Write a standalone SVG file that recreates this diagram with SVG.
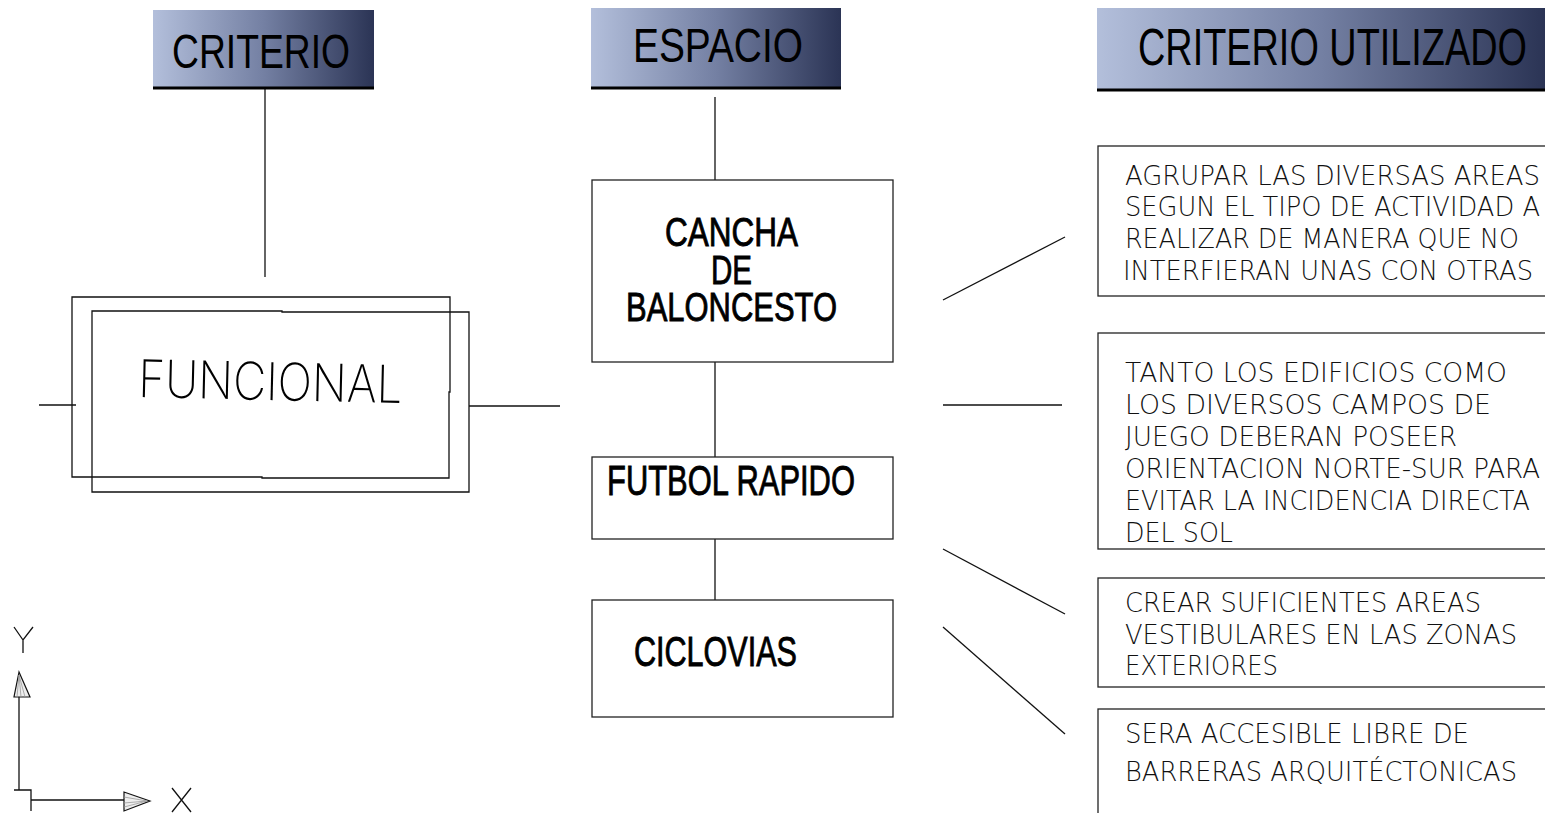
<svg xmlns="http://www.w3.org/2000/svg" width="1545" height="813" viewBox="0 0 1545 813">
<defs>
<linearGradient id="hdr" x1="0" y1="0" x2="1" y2="0">
<stop offset="0" stop-color="#b3bfdb"/>
<stop offset="0.5" stop-color="#7480a3"/>
<stop offset="1" stop-color="#2b3455"/>
</linearGradient>
<style>
.hbox{fill:url(#hdr);}
.hline{stroke:#000;stroke-width:3;}
.box{fill:#fff;stroke:#222;stroke-width:1.3;}
.ln{stroke:#111;stroke-width:1.3;fill:none;}
.ht{font-family:"Liberation Sans",Arial,sans-serif;fill:#000;}
.mt{font-family:"Liberation Sans",Arial,sans-serif;fill:#000;stroke:#000;stroke-width:0.9;}
.rt{font-family:"DejaVu Sans","Inter",sans-serif;font-weight:200;font-size:26px;fill:#111;}
.ft{font-family:"Inter","DejaVu Sans",sans-serif;font-weight:200;font-size:52px;fill:#000;}
</style>
</defs>
<rect width="1545" height="813" fill="#fff"/>

<g id="connectors">
<line class="ln" x1="265" y1="89" x2="265" y2="277"/>
<line class="ln" x1="39" y1="405" x2="76" y2="405"/>
<line class="ln" x1="469" y1="406" x2="560" y2="406"/>
<line class="ln" x1="715" y1="97" x2="715" y2="180"/>
<line class="ln" x1="715" y1="362" x2="715" y2="457"/>
<line class="ln" x1="715" y1="539" x2="715" y2="600"/>
<line class="ln" x1="943" y1="300" x2="1065" y2="237"/>
<line class="ln" x1="943" y1="405" x2="1062" y2="405"/>
<line class="ln" x1="943" y1="549" x2="1065" y2="614"/>
<line class="ln" x1="943" y1="627" x2="1065" y2="734"/>
</g>

<g id="hdr-criterio">
<rect class="hbox" x="153" y="10" width="221" height="78"/>
<line class="hline" x1="153" y1="88" x2="374" y2="88"/>
<text class="ht" x="172" y="68" font-size="48" textLength="178" lengthAdjust="spacingAndGlyphs">CRITERIO</text>
</g>
<g id="hdr-espacio">
<rect class="hbox" x="591" y="8" width="250" height="80"/>
<line class="hline" x1="591" y1="88" x2="841" y2="88"/>
<text class="ht" x="633" y="62" font-size="48" textLength="170" lengthAdjust="spacingAndGlyphs">ESPACIO</text>
</g>
<g id="hdr-utilizado">
<rect class="hbox" x="1097" y="8" width="448" height="82"/>
<line class="hline" x1="1097" y1="90" x2="1545" y2="90"/>
<text class="ht" x="1138" y="65" font-size="52" textLength="389" lengthAdjust="spacingAndGlyphs">CRITERIO UTILIZADO</text>
</g>

<g id="funcional">
<path class="ln" d="M72 297 H450 V392 H449 V478 H262 V477 H72 Z"/>
<path class="ln" d="M92 311 H282 V312 H469 V492 H92 Z"/>
<text class="ft" x="138" y="397" textLength="264" lengthAdjust="spacingAndGlyphs" transform="rotate(1.3 138 397)">FUNCIONAL</text>
</g>

<g id="cancha">
<rect class="box" x="592" y="180" width="301" height="182"/>
<text class="mt" x="665" y="246" font-size="41" textLength="133" lengthAdjust="spacingAndGlyphs">CANCHA</text>
<text class="mt" x="711" y="284" font-size="41" textLength="41" lengthAdjust="spacingAndGlyphs">DE</text>
<text class="mt" x="626" y="321" font-size="41" textLength="211" lengthAdjust="spacingAndGlyphs">BALONCESTO</text>
</g>
<g id="futbol">
<rect class="box" x="592" y="457" width="301" height="82"/>
<text class="mt" x="607" y="495" font-size="43" textLength="248" lengthAdjust="spacingAndGlyphs">FUTBOL RAPIDO</text>
</g>
<g id="ciclovias">
<rect class="box" x="592" y="600" width="301" height="117"/>
<text class="mt" x="634" y="666" font-size="43" textLength="163" lengthAdjust="spacingAndGlyphs">CICLOVIAS</text>
</g>

<g id="crit1">
<rect class="box" x="1098" y="146" width="460" height="150"/>
<text class="rt" x="1125" y="185" textLength="415" lengthAdjust="spacingAndGlyphs">AGRUPAR LAS DIVERSAS AREAS</text>
<text class="rt" x="1125" y="216" textLength="415" lengthAdjust="spacingAndGlyphs">SEGUN EL TIPO DE ACTIVIDAD A</text>
<text class="rt" x="1125" y="248" textLength="394" lengthAdjust="spacingAndGlyphs">REALIZAR DE MANERA QUE NO</text>
<text class="rt" x="1123" y="280" textLength="410" lengthAdjust="spacingAndGlyphs">INTERFIERAN UNAS CON OTRAS</text>
</g>
<g id="crit2">
<rect class="box" x="1098" y="333" width="460" height="216"/>
<text class="rt" x="1125" y="382" textLength="382" lengthAdjust="spacingAndGlyphs">TANTO LOS EDIFICIOS COMO</text>
<text class="rt" x="1125" y="414" textLength="366" lengthAdjust="spacingAndGlyphs">LOS DIVERSOS CAMPOS DE</text>
<text class="rt" x="1125" y="446" textLength="332" lengthAdjust="spacingAndGlyphs">JUEGO DEBERAN POSEER</text>
<text class="rt" x="1125" y="478" textLength="415" lengthAdjust="spacingAndGlyphs">ORIENTACION NORTE-SUR PARA</text>
<text class="rt" x="1125" y="510" textLength="405" lengthAdjust="spacingAndGlyphs">EVITAR LA INCIDENCIA DIRECTA</text>
<text class="rt" x="1125" y="542" textLength="108" lengthAdjust="spacingAndGlyphs">DEL SOL</text>
</g>
<g id="crit3">
<rect class="box" x="1098" y="578" width="460" height="109"/>
<text class="rt" x="1125" y="612" textLength="356" lengthAdjust="spacingAndGlyphs">CREAR SUFICIENTES AREAS</text>
<text class="rt" x="1125" y="644" textLength="392" lengthAdjust="spacingAndGlyphs">VESTIBULARES EN LAS ZONAS</text>
<text class="rt" x="1125" y="675" textLength="153" lengthAdjust="spacingAndGlyphs">EXTERIORES</text>
</g>
<g id="crit4">
<rect class="box" x="1098" y="709" width="460" height="120"/>
<text class="rt" x="1125" y="743" textLength="344" lengthAdjust="spacingAndGlyphs">SERA ACCESIBLE LIBRE DE</text>
<text class="rt" x="1125" y="781" textLength="392" lengthAdjust="spacingAndGlyphs">BARRERAS ARQUITÉCTONICAS</text>
</g>

<g id="ucs-icon">
<path class="ln" d="M19 697 V790"/>
<path class="ln" d="M14 790 H31 V811"/>
<path class="ln" d="M31 800 H124"/>
<path d="M19 672 L14 697 H30 Z" fill="#eee" stroke="#111" stroke-width="1.2"/>
<path d="M19 675 L17 697 M19 675 L21 697 M19 675 L25 697" stroke="#999" stroke-width="0.8"/>
<path d="M150 801 L124 792 V811 Z" fill="#eee" stroke="#111" stroke-width="1.2"/>
<path d="M147 801 L124 797 M147 801 L124 803 M147 801 L124 807" stroke="#999" stroke-width="0.8"/>
<path class="ln" d="M14 627 L23 640 L33 627 M23 640 V653"/>
<path class="ln" d="M172 788 L191 812 M191 788 L172 812"/>
</g>
</svg>
